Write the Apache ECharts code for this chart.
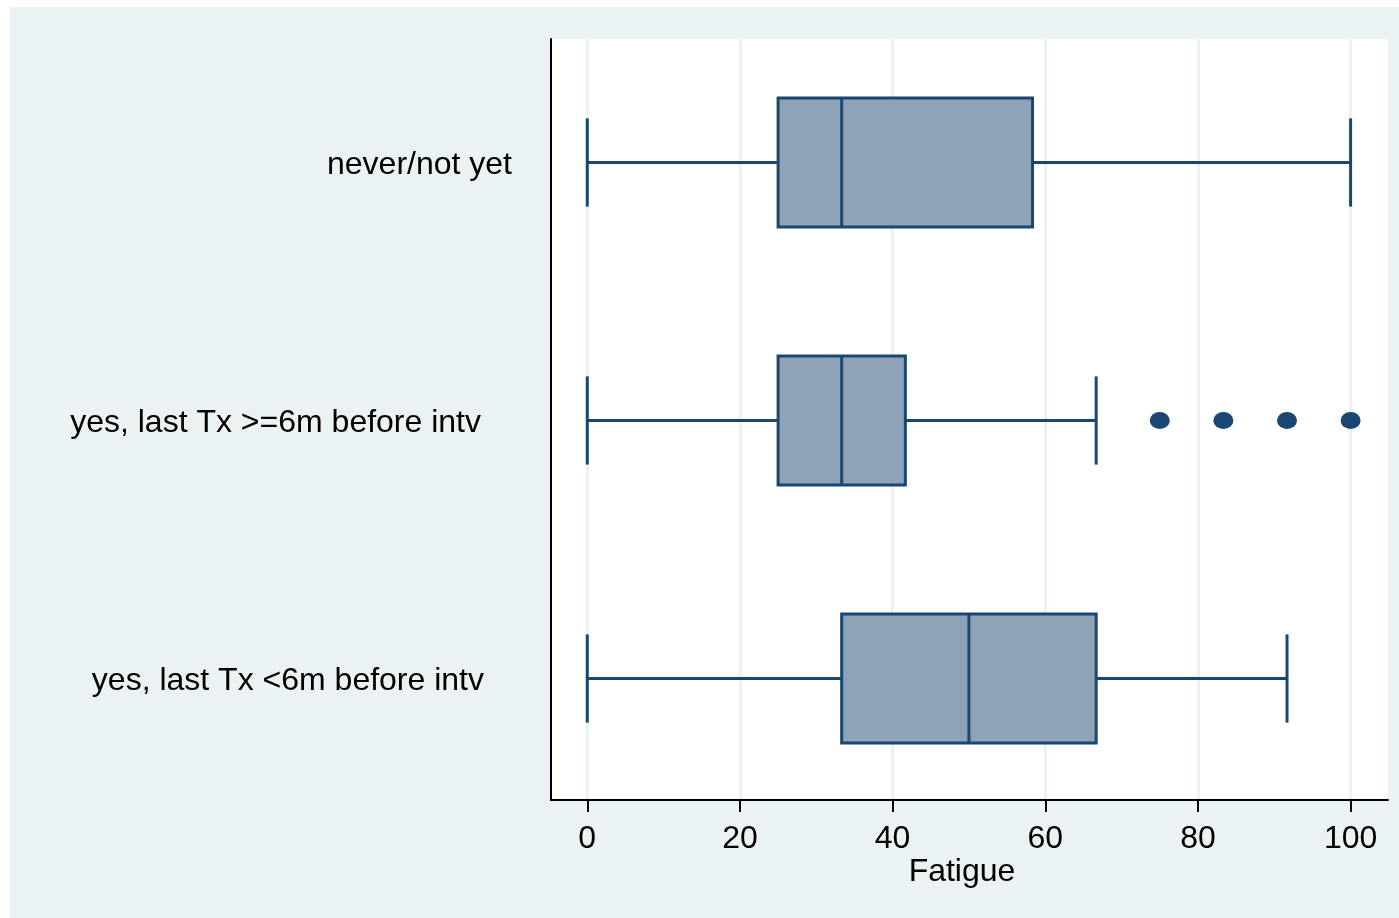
<!DOCTYPE html>
<html>
<head>
<meta charset="utf-8">
<script src="https://cdn.jsdelivr.net/npm/echarts@6/dist/echarts.min.js"></script>
<style>
html,body{margin:0;padding:0;background:#ffffff;width:1399px;height:918px;overflow:hidden;}
#chart{position:absolute;left:10px;top:7px;width:1389px;height:911px;background:#EAF2F3;}
</style>
</head>
<body>
<div id="chart"></div>
<script>
const categories = ['never/not yet', 'yes, last Tx >=6m before intv', 'yes, last Tx <6m before intv'];
const whiskerLow = [0, 0, 0];
const q1 = [25, 25, 33.33];
const median = [33.33, 33.33, 50];
const q3 = [58.33, 41.67, 66.67];
const whiskerHigh = [100, 66.67, 91.67];
const outliers = [[], [75, 83.33, 91.67, 100], []];
const xTicks = [0, 20, 40, 60, 80, 100];
const axisTitle = 'Fatigue';

const NAVY = '#1A476F';
const FILL = '#8EA3B8';
const FONT = '"Liberation Sans", Arial, sans-serif';

const boxData = categories.map((c, i) => [i, whiskerLow[i], q1[i], median[i], q3[i], whiskerHigh[i]]);
const outlierData = [];
outliers.forEach((arr, i) => arr.forEach(v => outlierData.push([v, i])));

const chart = echarts.init(document.getElementById('chart'));
const gridLeft = 541, gridRight = 11;

const option = {
  animation: false,
  backgroundColor: '#EAF2F3',
  grid: [
    { left: gridLeft, right: gridRight, top: 32, bottom: 118, show: true, backgroundColor: '#ffffff', borderWidth: 0 },
    { left: gridLeft, right: gridRight, top: 29, height: 774, show: false }
  ],
  xAxis: [
    {
      gridIndex: 0, type: 'value', min: -4.75, max: 104.9,
      name: axisTitle, nameLocation: 'middle', nameGap: 56, nameMoveOverlap: false,
      nameTextStyle: { fontFamily: FONT, fontSize: 32, color: '#000', padding: [0, 15, 0, 0] },
      axisLine: { show: true, onZero: false, lineStyle: { color: '#000', width: 2 } },
      axisTick: { show: true, customValues: xTicks, length: 12, lineStyle: { color: '#000', width: 2 } },
      axisLabel: { customValues: xTicks, margin: 23, fontFamily: FONT, fontSize: 32, color: '#000' },
      splitLine: { show: true, lineStyle: { color: '#EAF2F3', width: 3 } }
    },
    { gridIndex: 1, type: 'value', min: -4.75, max: 104.9, show: false }
  ],
  yAxis: [
    {
      gridIndex: 0, type: 'value', min: -0.4787, max: 2.471, inverse: true,
      axisLine: { show: true, onZero: false, lineStyle: { color: '#000', width: 2 } },
      axisTick: { show: false }, axisLabel: { show: false }, splitLine: { show: false }
    },
    {
      gridIndex: 1, type: 'category', data: categories, inverse: true,
      axisLine: { show: false }, axisTick: { show: false }, splitLine: { show: false },
      axisLabel: {
        margin: 39, fontFamily: FONT, fontSize: 32, color: '#000',
        formatter: function (v, i) { return '{r' + i + '|' + v + '}'; },
        rich: {
          r0: { fontFamily: FONT, fontSize: 32, color: '#000', padding: [0, 0, 0, 0] },
          r1: { fontFamily: FONT, fontSize: 32, color: '#000', padding: [0, 31, 0, 0] },
          r2: { fontFamily: FONT, fontSize: 32, color: '#000', padding: [0, 28, 0, 0] }
        }
      }
    }
  ],
  series: [
    {
      type: 'custom', xAxisIndex: 0, yAxisIndex: 0,
      data: boxData,
      encode: { x: [1, 2, 3, 4, 5], y: 0 },
      renderItem: function (params, api) {
        const c = api.value(0);
        const pMin = api.coord([api.value(1), c]);
        const pQ1 = api.coord([api.value(2), c]);
        const pMed = api.coord([api.value(3), c]);
        const pQ3 = api.coord([api.value(4), c]);
        const pMax = api.coord([api.value(5), c]);
        const unit = api.size([0, 1])[1];
        const bh = unit * 0.25, ch = unit * 0.171;
        const y = pMed[1];
        const ls = { stroke: NAVY, lineWidth: 3 };
        return {
          type: 'group',
          children: [
            { type: 'line', shape: { x1: pMin[0], y1: y, x2: pQ1[0], y2: y }, style: ls },
            { type: 'line', shape: { x1: pQ3[0], y1: y, x2: pMax[0], y2: y }, style: ls },
            { type: 'line', shape: { x1: pMin[0], y1: y - ch, x2: pMin[0], y2: y + ch }, style: ls },
            { type: 'line', shape: { x1: pMax[0], y1: y - ch, x2: pMax[0], y2: y + ch }, style: ls },
            { type: 'rect', shape: { x: pQ1[0], y: y - bh, width: pQ3[0] - pQ1[0], height: 2 * bh }, style: { fill: FILL, stroke: NAVY, lineWidth: 3 } },
            { type: 'line', shape: { x1: pMed[0], y1: y - bh, x2: pMed[0], y2: y + bh }, style: ls }
          ]
        };
      }
    },
    {
      type: 'scatter', xAxisIndex: 0, yAxisIndex: 0,
      data: outlierData, symbol: 'circle', symbolSize: [20, 17],
      itemStyle: { color: NAVY, opacity: 1 }
    }
  ]
};
chart.setOption(option);
</script>
</body>
</html>
